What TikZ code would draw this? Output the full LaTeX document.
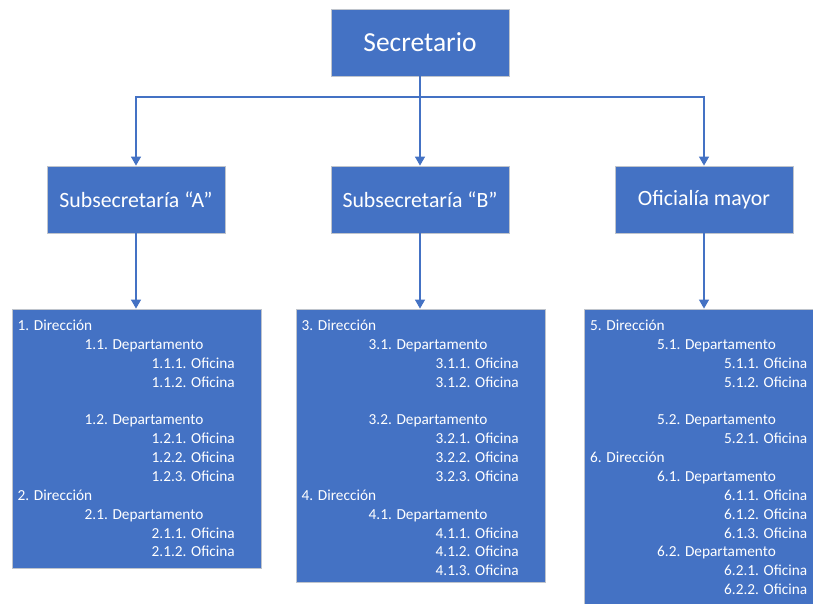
\documentclass[tikz,border=0pt]{standalone}
\usepackage{fontspec}
\setmainfont{Carlito}
\usetikzlibrary{arrows.meta}
\definecolor{unitblue}{HTML}{4472C4}
\definecolor{unitedge}{HTML}{BFC4CC}
% indentation of the three outline levels
\newcommand{\lvone}[1]{#1\\}
\newcommand{\lvtwo}[1]{\hspace*{67pt}#1\\}
\newcommand{\lvthree}[1]{\hspace*{134pt}#1\\}
\newcommand{\gapline}{\mbox{}\\}
\begin{document}
\begin{tikzpicture}[x=1pt,y=-1pt,
  unit/.style={draw=unitedge,line width=0.8pt,fill=unitblue,text=white,
    minimum width=178pt,minimum height=67pt,inner sep=0pt},
  listbox/.style={draw=unitedge,line width=0.8pt,fill=unitblue,minimum width=249pt,
    inner sep=0pt},
  listtext/.style={anchor=north west,text=white,align=left,inner sep=0pt,
    font=\fontsize{15.3}{18.85}\selectfont},
  link/.style={draw=unitblue,line width=1.3pt},
  arrowlink/.style={link,-{Triangle[width=10pt,length=9pt]}}]
\useasboundingbox (0,0) rectangle (813,604);

% top level
\node[unit,font=\fontsize{27.5}{30}\selectfont] (sec) at (420,42.5) {Secretario};

% second level
\node[unit,font=\fontsize{21.8}{24}\selectfont] (subA) at (136,199.5) {Subsecretaría “A”};
\node[unit,font=\fontsize{21.8}{24}\selectfont] (subB) at (420,199.5) {Subsecretaría “B”};
\node[unit,font=\fontsize{21.8}{24}\selectfont] (ofm) at (704,199.5) {Oficialía mayor};

% detail boxes
\node[listbox,minimum height=259pt] (lstA) at (136.5,438.5) {};
\node[listbox,minimum height=273pt] (lstB) at (420.5,445.5) {};
\node[listbox,minimum height=320pt] (lstC) at (708.5,469) {};

\node[listtext] (txtA) at (17.5,320) {%
\lvone{1. Dirección}
\lvtwo{1.1. Departamento}
\lvthree{1.1.1. Oficina}
\lvthree{1.1.2. Oficina}
\gapline
\lvtwo{1.2. Departamento}
\lvthree{1.2.1. Oficina}
\lvthree{1.2.2. Oficina}
\lvthree{1.2.3. Oficina}
\lvone{2. Dirección}
\lvtwo{2.1. Departamento}
\lvthree{2.1.1. Oficina}
\hspace*{134pt}2.1.2. Oficina};

\node[listtext] (txtB) at (301.5,320) {%
\lvone{3. Dirección}
\lvtwo{3.1. Departamento}
\lvthree{3.1.1. Oficina}
\lvthree{3.1.2. Oficina}
\gapline
\lvtwo{3.2. Departamento}
\lvthree{3.2.1. Oficina}
\lvthree{3.2.2. Oficina}
\lvthree{3.2.3. Oficina}
\lvone{4. Dirección}
\lvtwo{4.1. Departamento}
\lvthree{4.1.1. Oficina}
\lvthree{4.1.2. Oficina}
\hspace*{134pt}4.1.3. Oficina};

\node[listtext] (txtC) at (590,320) {%
\lvone{5. Dirección}
\lvtwo{5.1. Departamento}
\lvthree{5.1.1. Oficina}
\lvthree{5.1.2. Oficina}
\gapline
\lvtwo{5.2. Departamento}
\lvthree{5.2.1. Oficina}
\lvone{6. Dirección}
\lvtwo{6.1. Departamento}
\lvthree{6.1.1. Oficina}
\lvthree{6.1.2. Oficina}
\lvthree{6.1.3. Oficina}
\lvtwo{6.2. Departamento}
\lvthree{6.2.1. Oficina}
\hspace*{134pt}6.2.2. Oficina};

% connectors
\coordinate (bus) at (420,97);
\draw[link] (sec.south) -- (bus);
\draw[arrowlink] (bus) -| (subA.north);
\draw[arrowlink] (bus) -- (subB.north);
\draw[arrowlink] (bus) -| (ofm.north);
\draw[arrowlink] (subA.south) -- (subA.south |- lstA.north);
\draw[arrowlink] (subB.south) -- (subB.south |- lstB.north);
\draw[arrowlink] (ofm.south) -- (ofm.south |- lstC.north);
\end{tikzpicture}
\end{document}
